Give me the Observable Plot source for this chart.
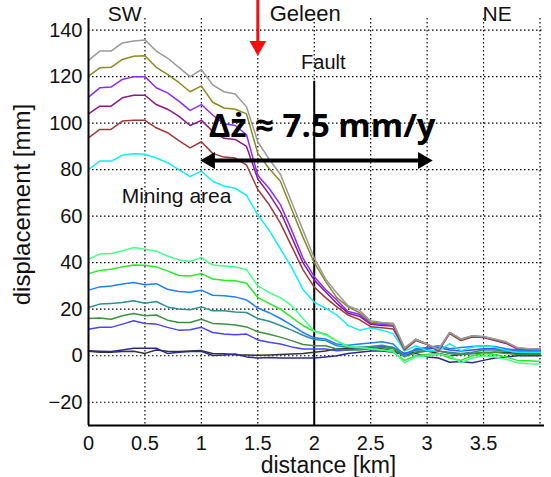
<!DOCTYPE html>
<html><head><meta charset="utf-8">
<script src="https://cdn.jsdelivr.net/npm/d3@7"></script>
<script src="https://cdn.jsdelivr.net/npm/@observablehq/plot@0.6"></script>
<style>body{margin:0;background:#fff} svg{display:block}</style>
</head><body><div id="chart"></div>
<script>
const distance = [0,0.1,0.2,0.3,0.4,0.5,0.6,0.7,0.8,0.9,1.0,1.1,1.2,1.3,1.4,1.5,1.6,1.7,1.8,1.9,2.0,2.1,2.2,2.3,2.4,2.5,2.6,2.7,2.8,2.9,3.0,3.1,3.2,3.3,3.4,3.5,3.6,3.7,3.8,3.9,4.0];

const sGray   = [127,131,131,134.5,135.3,135.8,131,128,124,120,123,116.5,113.5,112.5,107,92,84.5,78,66,54,42,33,27,21.5,19.5,15,14.3,14,3.5,7,5,2.8,10,7.2,8.6,8.3,7.2,6,3.5,3,3];
const sOlive  = [120.2,123.8,124,127.4,128.8,129,124,121,117.5,113.5,116,109,106.5,106,104,87,80.5,75,63,51,40,32,25,21,18.5,14.5,14,13.8,3,7,5,2.5,9.8,7,8.5,8.2,7,5.8,3.3,2.9,2.9];
const sViolet = [111.2,115.2,115.5,118.8,120,120,115.2,113,109.5,105.5,108,103.5,99.7,99,95,77.5,72,65,54,42,34,28.5,24,19,17.8,14,13.5,13,3,7,5,2.3,10,7,8.5,8,7,5.5,3,2.8,3];
const sPurple = [104,107.3,107.3,110.9,112,112,108,106,103,99,101.2,96.5,93.5,93,90,76,69.5,62,51,40,32.5,27.5,22.5,18.3,17,13.5,13,12.8,3,7,5,2.2,9.8,7,8.4,8,6.8,5.5,3,2.7,3];
const sBrown  = [93.7,97.3,97.3,100.9,101.2,101.2,98,95.9,92.5,89.4,92,87,85.4,85,82,71.5,65,57,47,37,29.5,25,21,17.5,15.5,12.5,12,11.5,2.5,6.5,4.8,2,9.5,6.5,8,7.8,6.5,5.3,3,2.7,3];
const sCyan   = [80,83.7,83.7,86.2,86.8,86.6,85,83,80,77,79.4,75,73,72,69,60.5,54,46,38,28.5,23,20.5,17.5,13,11,12,11,9.5,2,4.3,2.1,2.1,5.2,2.2,3.6,4.3,3.6,2.3,1.5,1.4,1.4];
const sMint   = [41.5,43.7,44,45,46.5,45.8,45,42.9,41.2,40.5,42.2,39,38.6,38.3,37,30,27.2,25,21.5,16,10.5,9,6.4,4,3.5,3,2.5,2,-3,-0.5,0,0.5,0,-3,-1,0,-0.5,-1.5,-3,-3.5,-3.6];
const sGreen  = [35.3,36.7,37.2,38.2,39,38.9,38.2,36.5,34.5,34.3,35.3,33,32.5,32.2,31.2,25,22.5,20,16.5,13,10.5,9.4,6.4,4,3.5,3,2.5,1.5,-2,0,0.5,1,-1,-2,0,1,0.5,-0.5,-2,-2.2,-2.5];
const sBlue   = [28.2,29.6,30,30.8,31.5,30.5,31,28.6,27.6,27.3,28.2,26,25.8,25.3,24,20.5,18.5,16,13.2,10,7.7,7.2,5,4.5,5,5.5,6,5,0,3,3.5,4.3,3,3.5,4,4.3,4,3,2.5,2.3,2];
const sTeal   = [20.7,22.2,22.5,22.9,23.6,22.6,23.3,21,20.1,19.8,21,19.3,19.3,18.8,18.6,16,14.8,13,11,8.8,7,6.5,4.3,3.5,3.5,4,4.5,3.5,0.5,2.5,2.5,2,1.5,1,1.5,2.5,2.5,2,1.5,1.5,1.5];
const sDkGreen= [16,16.2,15.7,17.2,18.2,17.2,17.5,15.3,14.3,14.3,15.7,13.9,13.6,13.2,12.4,10.3,9.2,8,6.5,4.8,4.3,4.3,2.9,2.5,2.5,3,3.5,3,-0.5,1.5,2,2,1,0.5,1,1.5,1.5,1,0.5,0.5,0.5];
const sIndigo = [11.4,12.2,12.2,13.6,15,13.9,13.6,12.2,11,11.2,12.2,10,9.3,9,9.3,6.8,5.8,5,3.8,2.9,2.9,2.9,2.1,2.5,3,3.5,4,3.5,1,2.5,3,3.5,2.5,2,2.5,3,3,2.5,2,2,2];
const sNavy   = [2.1,1.9,1.8,2.5,3.2,3.2,3.2,1,1.5,1.8,1.9,0.1,0.3,0.7,-0.5,-1,-0.8,-1,-1,-1,-1,-0.5,0,1,1.5,2,2,1.5,0.5,1,-0.5,-1,-2.8,-2.5,-3,-2,-1,-0.5,0,0,0];
const sBlack  = [1.9,1.5,1.5,1.8,1.9,1,2.5,1.9,1.8,2,2.2,1,0.8,0.4,0.3,0.2,0.3,0.5,0.7,1,1.5,2,3,3,3.5,3.5,3,2,1,1.5,2,1,0,0.5,1,1,1.5,1.5,1,1,1];

const seriesNames  = ["black","navy","indigo","dkgreen","teal","blue","green","mint","cyan","brown","purple","violet","olive","gray"];
const seriesValues = [sBlack,sNavy,sIndigo,sDkGreen,sTeal,sBlue,sGreen,sMint,sCyan,sBrown,sPurple,sViolet,sOlive,sGray];
const seriesColors = ["#333333","#2a2a8a","#4646ff","#3f8f3f","#2f8f8f","#1f7fff","#22ee22","#44ff88","#11f0f0","#a03a3a","#8a1a8a","#8a2cff","#8a8a20","#9a9a9a"];

const xTicks = [0,0.5,1,1.5,2,2.5,3,3.5];
const xGrid  = [0.5,1,1.5,2,2.5,3,3.5,4];
const yTicks = [-20,0,20,40,60,80,100,120,140];

const rows = [];
seriesNames.forEach((n, i) => seriesValues[i].forEach((v, j) => rows.push({s: n, x: distance[j], y: v})));

const grid = {stroke: "#000", strokeDasharray: "1.5,2.5", strokeWidth: 1.2};
const font = "'Liberation Sans', Arial, sans-serif";

const chart = Plot.plot({
  width: 551, height: 477,
  marginLeft: 88, marginRight: 7, marginTop: 18, marginBottom: 52,
  style: {fontFamily: font, fontSize: "20px", background: "white", color: "#111", overflow: "visible"},
  x: {domain: [0, 4.04]},
  y: {domain: [-30, 145]},
  color: {domain: seriesNames, range: seriesColors},
  marks: [
    Plot.ruleY(yTicks, grid),
    Plot.ruleX(xGrid, grid),
    Plot.ruleX([{x: 2, a: 118, b: -30}], {x: "x", y1: "a", y2: "b", stroke: "#000", strokeWidth: 2}),
    Plot.line(rows, {x: "x", y: "y", z: "s", stroke: "s", strokeWidth: 1.5}),
    Plot.axisX({ticks: xTicks, tickSize: 0, tickPadding: 10, tickFormat: d => String(d), label: null, fontSize: 20}),
    Plot.axisY({ticks: yTicks, tickSize: 0, tickPadding: 6, tickFormat: d => d < 0 ? "\u2212" + Math.abs(d) : String(d), label: null, fontSize: 20}),
    Plot.ruleX([0], {stroke: "#000", strokeWidth: 2}),
    Plot.ruleY([-30], {stroke: "#000", strokeWidth: 2}),
    // axis titles
    Plot.text(["distance [km]"], {x: 2.126, y: -47.4, fontSize: 23}),
    Plot.text(["displacement [mm]"], {x: -0.585, y: 65, fontSize: 24, rotate: -90}),
    // annotations
    Plot.text(["SW"], {x: 0.32, y: 147, fontSize: 21}),
    Plot.text(["Geleen"], {x: 1.92, y: 147, fontSize: 22}),
    Plot.text(["NE"], {x: 3.62, y: 147, fontSize: 21}),
    Plot.text(["Fault"], {x: 2.08, y: 126, fontSize: 20}),
    Plot.text(["Mining area"], {x: 0.78, y: 68.4, fontSize: 21}),
    Plot.text(["\u0394\u017C \u2248 7.5 mm/y"], {x: 2.07, y: 98.5, fontSize: 33, fontWeight: "bold", fontFamily: "'Open Sans', Lato, sans-serif", fill: "#000"}),
    // double-headed arrow
    Plot.ruleY([{y: 83.9, a: 1.07, b: 2.965}], {y: "y", x1: "a", x2: "b", stroke: "#000", strokeWidth: 4}),
    Plot.dot([{x: 1.077, y: 83.9}], {x: "x", y: "y", symbol: "triangle", r: 6.3, fill: "#000", stroke: "none", rotate: -90}),
    Plot.dot([{x: 2.963, y: 83.9}], {x: "x", y: "y", symbol: "triangle", r: 6.3, fill: "#000", stroke: "none", rotate: 90}),
    // red arrow
    Plot.ruleX([{x: 1.5, a: 153, b: 135}], {x: "x", y1: "a", y2: "b", stroke: "#f01010", strokeWidth: 3}),
    Plot.dot([{x: 1.5, y: 133.2}], {x: "x", y: "y", symbol: "triangle", r: 6.3, fill: "#f01010", stroke: "none", rotate: 180})
  ]
});
document.getElementById("chart").appendChild(chart);
</script>
</body></html>
